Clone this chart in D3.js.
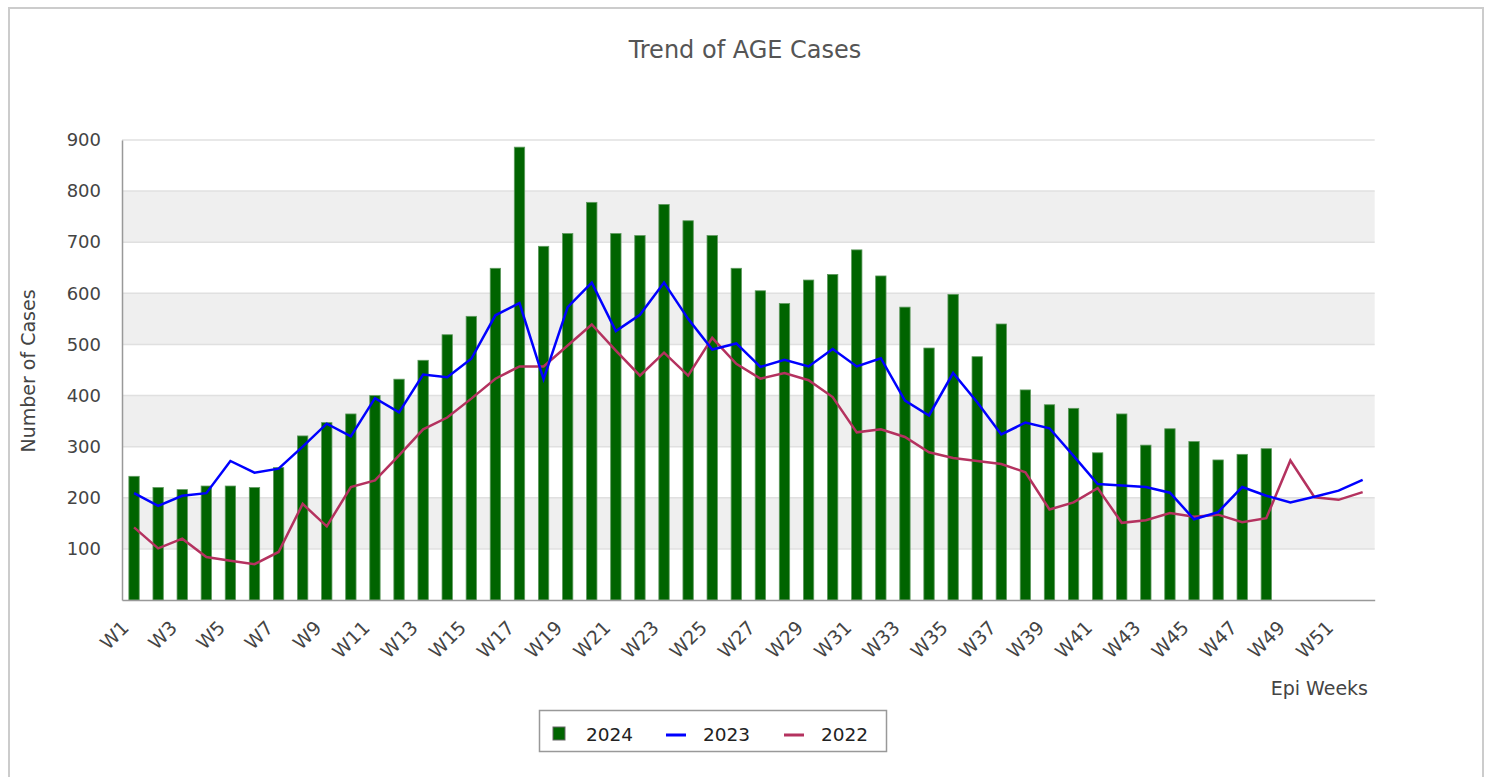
<!DOCTYPE html>
<html>
<head>
<meta charset="utf-8">
<script src="https://cdn.jsdelivr.net/npm/d3@7"></script>
<style>
    body{margin:0;background:#fff;}
    text{font-family:"DejaVu Sans",Verdana,sans-serif;}
</style>
</head>
<body>
<div id="grafico"></div>
<script>
// epi weeks W1..W52
var weeks = d3.range(1, 53).map(function(i){ return "W" + i; });
// cases 2024 (bars, up to W48)
var cases2024 = [242,220,216,223,223,220,259,321,347,364,400,432,469,519,555,649,886,692,717,778,
                 717,713,774,742,713,649,605,580,626,637,685,634,573,493,598,476,540,411,382,375,
                 288,364,303,335,310,274,285,296];
// cases 2023 (line)
var cases2023 = [209,184,204,209,272,249,257,300,345,320,395,367,441,436,472,557,581,432,573,621,
                 526,558,621,550,490,502,456,470,457,491,457,473,390,361,444,387,324,347,336,282,
                 227,224,221,210,158,172,221,204,191,202,214,235];
// cases 2022 (line)
var cases2022 = [142,101,120,84,77,70,94,188,144,221,234,283,334,357,394,433,457,457,498,539,
                 488,439,484,439,513,462,433,444,430,397,328,334,319,289,278,272,266,250,177,191,
                 219,151,156,170,163,167,152,160,273,201,196,211];
var yTicks = [100,200,300,400,500,600,700,800,900];
var seriesNames = ["2024","2023","2022"];
var seriesColors = ["#006400","#0000ff","#b4325f"];

var width = 1491, height = 777;
var margin = {top:140, right:116.3, bottom:177, left:122};

var svg = d3.select("#grafico").append("svg")
    .attr("width", width).attr("height", height);

// moldura
svg.append("rect")
    .attr("x", 9).attr("y", 8)
    .attr("width", 1474).attr("height", 790)
    .attr("fill", "none").attr("stroke", "#cccccc").attr("stroke-width", 2);

svg.append("text")
    .attr("x", 745).attr("y", 58)
    .attr("text-anchor", "middle")
    .attr("font-size", "24px")
    .attr("fill", "#555")
    .text("Trend of AGE Cases");

var xScale = d3.scaleBand()
    .domain(weeks)
    .range([margin.left, width - margin.right])
    .padding(0);
var yScale = d3.scaleLinear()
    .domain([0, 900])
    .range([height - margin.bottom, margin.top]);

var plotArea = svg.append("g").attr("id", "plotarea");

// faixas alternadas
plotArea.selectAll("rect.band")
    .data(yTicks.filter(function(d){ return (d / 100) % 2 === 0; }))
    .enter().append("rect")
    .attr("class", "band")
    .attr("x", margin.left)
    .attr("width", width - margin.right - margin.left)
    .attr("y", function(d){ return yScale(d); })
    .attr("height", function(d){ return yScale(d - 100) - yScale(d); })
    .attr("fill", "#efefef");

plotArea.selectAll("line.grid")
    .data(yTicks)
    .enter().append("line")
    .attr("class", "grid")
    .attr("x1", margin.left).attr("x2", width - margin.right)
    .attr("y1", function(d){ return yScale(d); })
    .attr("y2", function(d){ return yScale(d); })
    .attr("stroke", "#e0e0e0").attr("stroke-width", 1.5);

// eixo y
var yAxis = svg.append("g")
    .attr("transform", "translate(" + margin.left + ",0)")
    .call(d3.axisLeft(yScale).tickValues(yTicks).tickSize(0).tickPadding(21));
yAxis.select(".domain").attr("stroke", "#999").attr("stroke-width", 1.5);
yAxis.selectAll("text")
    .attr("font-size", "18px").attr("fill", "#444")
    .attr("font-family", "DejaVu Sans");

svg.append("text")
    .attr("transform", "translate(35,371) rotate(-90)")
    .attr("text-anchor", "middle")
    .attr("font-size", "19px").attr("fill", "#444")
    .text("Number of Cases");

// barras 2024
var barWidth = xScale.bandwidth() * 0.43;
plotArea.selectAll("rect.bar")
    .data(cases2024)
    .enter().append("rect")
    .attr("class", "bar")
    .attr("x", function(d, i){ return xScale(weeks[i]) + (xScale.bandwidth() - barWidth) / 2; })
    .attr("y", function(d){ return yScale(d); })
    .attr("width", barWidth)
    .attr("height", function(d){ return yScale(0) - yScale(d); })
    .attr("fill", seriesColors[0])
    .attr("stroke", "#5f9a5f").attr("stroke-width", 0.8);

var line = d3.line()
    .x(function(d, i){ return xScale(weeks[i]) + xScale.bandwidth() / 2; })
    .y(function(d){ return yScale(d); });

plotArea.append("path")
    .datum(cases2022)
    .attr("d", line)
    .attr("fill", "none").attr("stroke", seriesColors[2]).attr("stroke-width", 2.5);
plotArea.append("path")
    .datum(cases2023)
    .attr("d", line)
    .attr("fill", "none").attr("stroke", seriesColors[1]).attr("stroke-width", 2.5);

// eixo x
var xAxis = svg.append("g")
    .attr("transform", "translate(0," + yScale(0) + ")")
    .call(d3.axisBottom(xScale)
        .tickValues(weeks.filter(function(d, i){ return i % 2 === 0; }))
        .tickSize(0).tickPadding(0));
xAxis.select(".domain").attr("stroke", "#999").attr("stroke-width", 1.5);
xAxis.selectAll("text")
    .attr("font-size", "19px").attr("fill", "#444")
    .attr("font-family", "DejaVu Sans")
    .attr("text-anchor", "end")
    .attr("dy", "0")
    .attr("transform", "translate(-4,29) rotate(-45)");

svg.append("text")
    .attr("x", 1368).attr("y", 695)
    .attr("text-anchor", "end")
    .attr("font-size", "19px").attr("fill", "#444")
    .text("Epi Weeks");

// legenda
var legend = svg.append("g").attr("class", "legend");
legend.append("rect")
    .attr("x", 539.5).attr("y", 710.5)
    .attr("width", 347).attr("height", 41)
    .attr("fill", "#fff").attr("stroke", "#999").attr("stroke-width", 1.5);
var legendX = [553, 666, 784];
seriesNames.forEach(function(name, i){
    if(i === 0){
        legend.append("rect")
            .attr("x", legendX[i]).attr("y", 727)
            .attr("width", 12).attr("height", 13)
            .attr("fill", seriesColors[i]).attr("stroke", "#666").attr("stroke-width", 1);
    } else {
        legend.append("line")
            .attr("x1", legendX[i]).attr("x2", legendX[i] + 20)
            .attr("y1", 735).attr("y2", 735)
            .attr("stroke", seriesColors[i]).attr("stroke-width", 3);
    }
    legend.append("text")
        .attr("x", legendX[i] + (i === 0 ? 33 : 37)).attr("y", 741)
        .attr("font-size", "18.5px").attr("fill", "#222")
        .text(name);
});
</script>
</body>
</html>
